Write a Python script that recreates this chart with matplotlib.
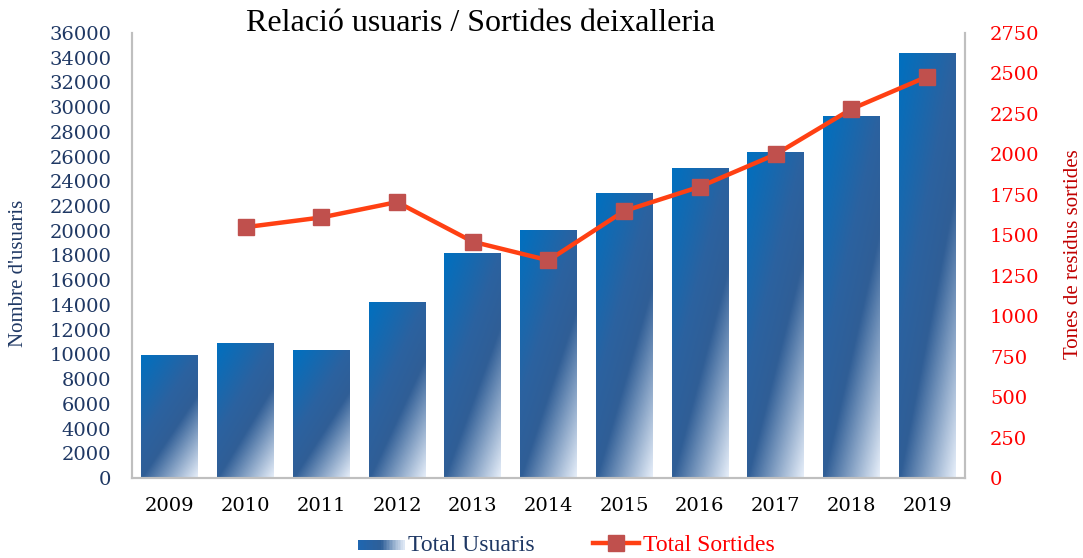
import numpy as np
import matplotlib
matplotlib.use("Agg")
import matplotlib.pyplot as plt
from matplotlib.colors import LinearSegmentedColormap
from matplotlib.patches import Rectangle
from matplotlib.lines import Line2D
from matplotlib.legend_handler import HandlerBase

years = ["2009", "2010", "2011", "2012", "2013", "2014", "2015", "2016", "2017", "2018", "2019"]
usuaris = [9950, 10950, 10350, 14250, 18200, 20050, 23050, 25100, 26400, 29300, 34400]
sortides_years = ["2010", "2011", "2012", "2013", "2014", "2015", "2016", "2017", "2018", "2019"]
sortides = [1550, 1610, 1705, 1460, 1345, 1650, 1800, 2000, 2280, 2480]

navy = "#1f3864"
red = "#ff0000"
darkred = "#c00000"
grey = "#bfbfbf"

# diagonal gradient like the excel fill: bright blue -> steel blue -> pale
grad = LinearSegmentedColormap.from_list(
    "bar", [(0.0, "#0070c0"), (0.4, "#2b62a0"), (0.6, "#305e96"), (1.0, "#e6eef9")])

fig = plt.figure(figsize=(10.83, 5.58), dpi=100)
ax = fig.add_axes([0.1219, 0.1434, 0.7691, 0.7975])
ax2 = ax.twinx()

x = np.arange(len(years))
bars = ax.bar(x, usuaris, width=0.75, color="none", zorder=2)

# fill each bar with the gradient image, clipped to the bar
n = 120
u, h = np.meshgrid(np.linspace(0, 1, n), np.linspace(1, 0, n))
w = u - 1.45 * h
s = (w + 1.45) / 2.45
for b in bars:
    x0, y0 = b.get_x(), b.get_y()
    im = ax.imshow(s, cmap=grad, vmin=0, vmax=1, aspect="auto", zorder=2,
                   extent=[x0, x0 + b.get_width(), y0, y0 + b.get_height()],
                   interpolation="bilinear")
    im.set_clip_path(b)

ax.set_xlim(-0.5, len(years) - 0.5)
ax.set_ylim(0, 36000)
ax.set_yticks(np.arange(0, 36001, 2000))
ax.set_xticks(x)
ax.set_xticklabels(years)
ax.tick_params(axis="y", length=0, pad=15, labelsize=14, labelcolor=navy)
ax.tick_params(axis="x", length=0, pad=14, labelsize=14, labelcolor="black")
for lab in ax.get_yticklabels() + ax.get_xticklabels():
    lab.set_family("DejaVu Serif")

sx = [years.index(y) for y in sortides_years]
ax2.plot(sx, sortides, color="#ff4013", lw=3.2, marker="s", ms=11,
         mfc="#c0504d", mec="#c0504d", zorder=3)
ax2.set_ylim(0, 2750)
ax2.set_yticks(np.arange(0, 2751, 250))
ax2.tick_params(axis="y", length=0, pad=18, labelsize=14, labelcolor=red)
for lab in ax2.get_yticklabels():
    lab.set_family("DejaVu Serif")

for a in (ax, ax2):
    a.spines["top"].set_visible(False)
    for sp in ("left", "right", "bottom"):
        a.spines[sp].set_color(grey)
        a.spines[sp].set_linewidth(1.5)

fig.text(0.444, 0.958, "Relació usuaris / Sortides deixalleria", ha="center", va="center",
         fontsize=23, family="Liberation Serif", color="black")
fig.text(0.017, 0.51, "Nombre d'usuaris", rotation=90, ha="center", va="center",
         fontsize=15, family="Liberation Serif", color=navy)
fig.text(0.991, 0.545, "Tones de residus sortides", rotation=90, ha="center", va="center",
         fontsize=15, family="Liberation Serif", color=darkred)


class GradientHandler(HandlerBase):
    def create_artists(self, legend, orig_handle, xdescent, ydescent, width, height,
                       fontsize, trans):
        cm = LinearSegmentedColormap.from_list("lg", ["#1f66b0", "#2f5f98", "#dde7f4"])
        arts = []
        k = 30
        for i in range(k):
            r = Rectangle((-xdescent + width * i / k, -ydescent + height * 0.1),
                          width / k + 0.3, height * 0.6, color=cm(i / (k - 1)),
                          lw=0, transform=trans)
            arts.append(r)
        return arts


bar_handle = Rectangle((0, 0), 1, 1)
line_handle = Line2D([], [], color="#ff4013", lw=3.2, marker="s", ms=11,
                     mfc="#c0504d", mec="#c0504d")
leg = fig.legend([bar_handle, line_handle], ["Total Usuaris", "Total Sortides"],
                 handler_map={Rectangle: GradientHandler()},
                 loc="center", bbox_to_anchor=(0.523, 0.022), ncol=2, frameon=False,
                 prop={"family": "Liberation Serif", "size": 17},
                 handlelength=1.95, handletextpad=0.15, columnspacing=2.5,
                 labelcolor=[navy, red])

fig.savefig("out.png", dpi=100)
